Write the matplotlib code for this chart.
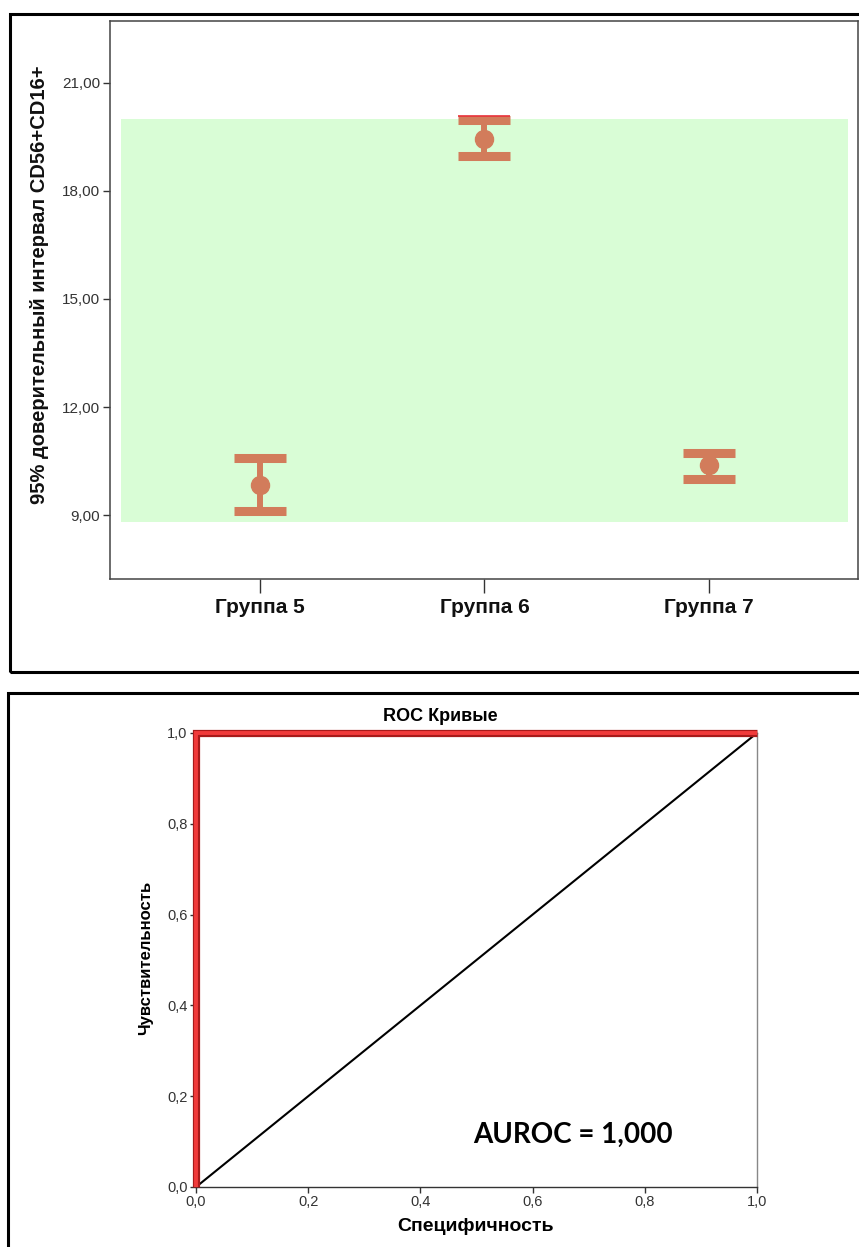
import matplotlib
matplotlib.use("Agg")
import matplotlib.pyplot as plt
from matplotlib.patches import Rectangle

W, H = 859, 1247

# --- data: 95% confidence intervals for CD56+CD16+ ---
groups = ["Группа 5", "Группа 6", "Группа 7"]
ci_mean = [9.83, 19.45, 10.38]
ci_low = [9.11, 18.97, 10.01]
ci_high = [10.59, 19.96, 10.73]
ref_low, ref_high = 8.8, 20.0
y_ticks = [9.0, 12.0, 15.0, 18.0, 21.0]

# --- data: ROC curve ---
roc_spec = [0.0, 0.0, 1.0]
roc_sens = [0.0, 1.0, 1.0]
diag = [0.0, 1.0]
roc_ticks = [0.0, 0.2, 0.4, 0.6, 0.8, 1.0]
auroc = 1.000

plt.rcParams['font.family'] = ['Liberation Sans', 'DejaVu Sans']

fig = plt.figure(figsize=(W / 100, H / 100), dpi=100)


def px_axes(x0, y0, x1, y1):
    return fig.add_axes([x0 / W, 1 - y1 / H, (x1 - x0) / W, (y1 - y0) / H])


def comma(v, nd):
    return f"{v:.{nd}f}".replace(".", ",")


# panel frames
fig.patches.append(Rectangle((10 / W, 1 - 671.5 / H), 870 / W, 657.5 / H,
                             transform=fig.transFigure, fill=False,
                             lw=2.2, ec="black", clip_on=False))
fig.patches.append(Rectangle((8 / W, 1 - 1270 / H), 880 / W, 577 / H,
                             transform=fig.transFigure, fill=False,
                             lw=2.2, ec="black", clip_on=False))

# ---------- top: error bar chart ----------
ax = px_axes(110, 20.7, 858, 579)
xs = list(range(len(groups)))
ax.set_xlim(-0.668, 2.664)
ax.set_ylim(7.23, 22.72)
ax.fill_between([-0.62, 2.62], ref_low, ref_high, color="#d9fdd6", lw=0, zorder=0)

col = "#d27c5b"
for x, m, lo, hi in zip(xs, ci_mean, ci_low, ci_high):
    ax.vlines(x, lo, hi, color=col, lw=4.3, zorder=2)
    ax.hlines([lo, hi], x - 0.116, x + 0.116, color=col, lw=6.5,
              capstyle="butt", zorder=3)
    ax.plot([x], [m], "o", ms=13, color=col, mec=col, zorder=4)
# thin red edge on the upper cap of the highest interval
ax.hlines(ci_high[1] + 0.115, xs[1] - 0.116, xs[1] + 0.116, color="#e8323a",
          lw=1.2, zorder=5)

ax.set_xticks(xs)
ax.set_xticklabels(groups, fontsize=15, fontweight="bold", color="#111")
ax.set_yticks(y_ticks)
ax.set_yticklabels([comma(v, 2) for v in y_ticks], fontsize=11, color="#333")
ax.tick_params(axis="x", length=10, width=1, color="#333", pad=4)
ax.tick_params(axis="y", length=5, width=1, color="#333", pad=2)
for s in ax.spines.values():
    s.set_color("#444")
    s.set_linewidth(1.1)
ax.set_ylabel("95% доверительный интервал CD56+CD16+", fontsize=14.5,
              fontweight="bold", color="#111")
ax.yaxis.set_label_coords(-(110 - 49) / 748, (579 - 285) / 558.3)

# ---------- bottom: ROC curve ----------
ax2 = px_axes(196, 733, 757, 1187)
ax2.set_xlim(0, 1)
ax2.set_ylim(0, 1)
ax2.plot(diag, diag, color="black", lw=1.5, zorder=2)
ax2.plot(roc_spec, roc_sens, color="#a81a1a", lw=5.2, solid_joinstyle="miter",
         solid_capstyle="butt", clip_on=False, zorder=3)
ax2.plot(roc_spec, roc_sens, color="#f03a3a", lw=2.8, solid_joinstyle="miter",
         solid_capstyle="butt", clip_on=False, zorder=4)
ax2.set_xticks(roc_ticks)
ax2.set_yticks(roc_ticks)
ax2.set_xticklabels([comma(v, 1) for v in roc_ticks], fontsize=10.5, color="#333")
ax2.set_yticklabels([comma(v, 1) for v in roc_ticks], fontsize=10.5, color="#333")
ax2.tick_params(length=4.5, width=1, color="#333", pad=1.5)
for name, s in ax2.spines.items():
    s.set_linewidth(1.0)
    s.set_color("#333")
ax2.spines["right"].set_color("#888")
ax2.spines["top"].set_color("#888")
ax2.text((440 - 196) / 561, 1 + (733 - 717) / 454, "ROC Кривые",
         transform=ax2.transAxes, ha="center", va="center",
         fontsize=13, fontweight="bold")
ax2.set_xlabel("Специфичность", fontsize=14, fontweight="bold")
ax2.set_ylabel("Чувствительность", fontsize=12, fontweight="bold")
ax2.xaxis.set_label_coords((476 - 196) / 561, -(1218 - 1187) / 454)
ax2.yaxis.set_label_coords(-(196 - 153) / 561, (1187 - 958) / 454)
ax2.text((573 - 196) / 561, (1187 - 1135) / 454, f"AUROC = {comma(auroc, 3)}",
         transform=ax2.transAxes, ha="center", va="center",
         fontsize=20, fontweight="bold", family=["Lato", "DejaVu Sans"])

fig.savefig("out.png", dpi=100, facecolor="white")
